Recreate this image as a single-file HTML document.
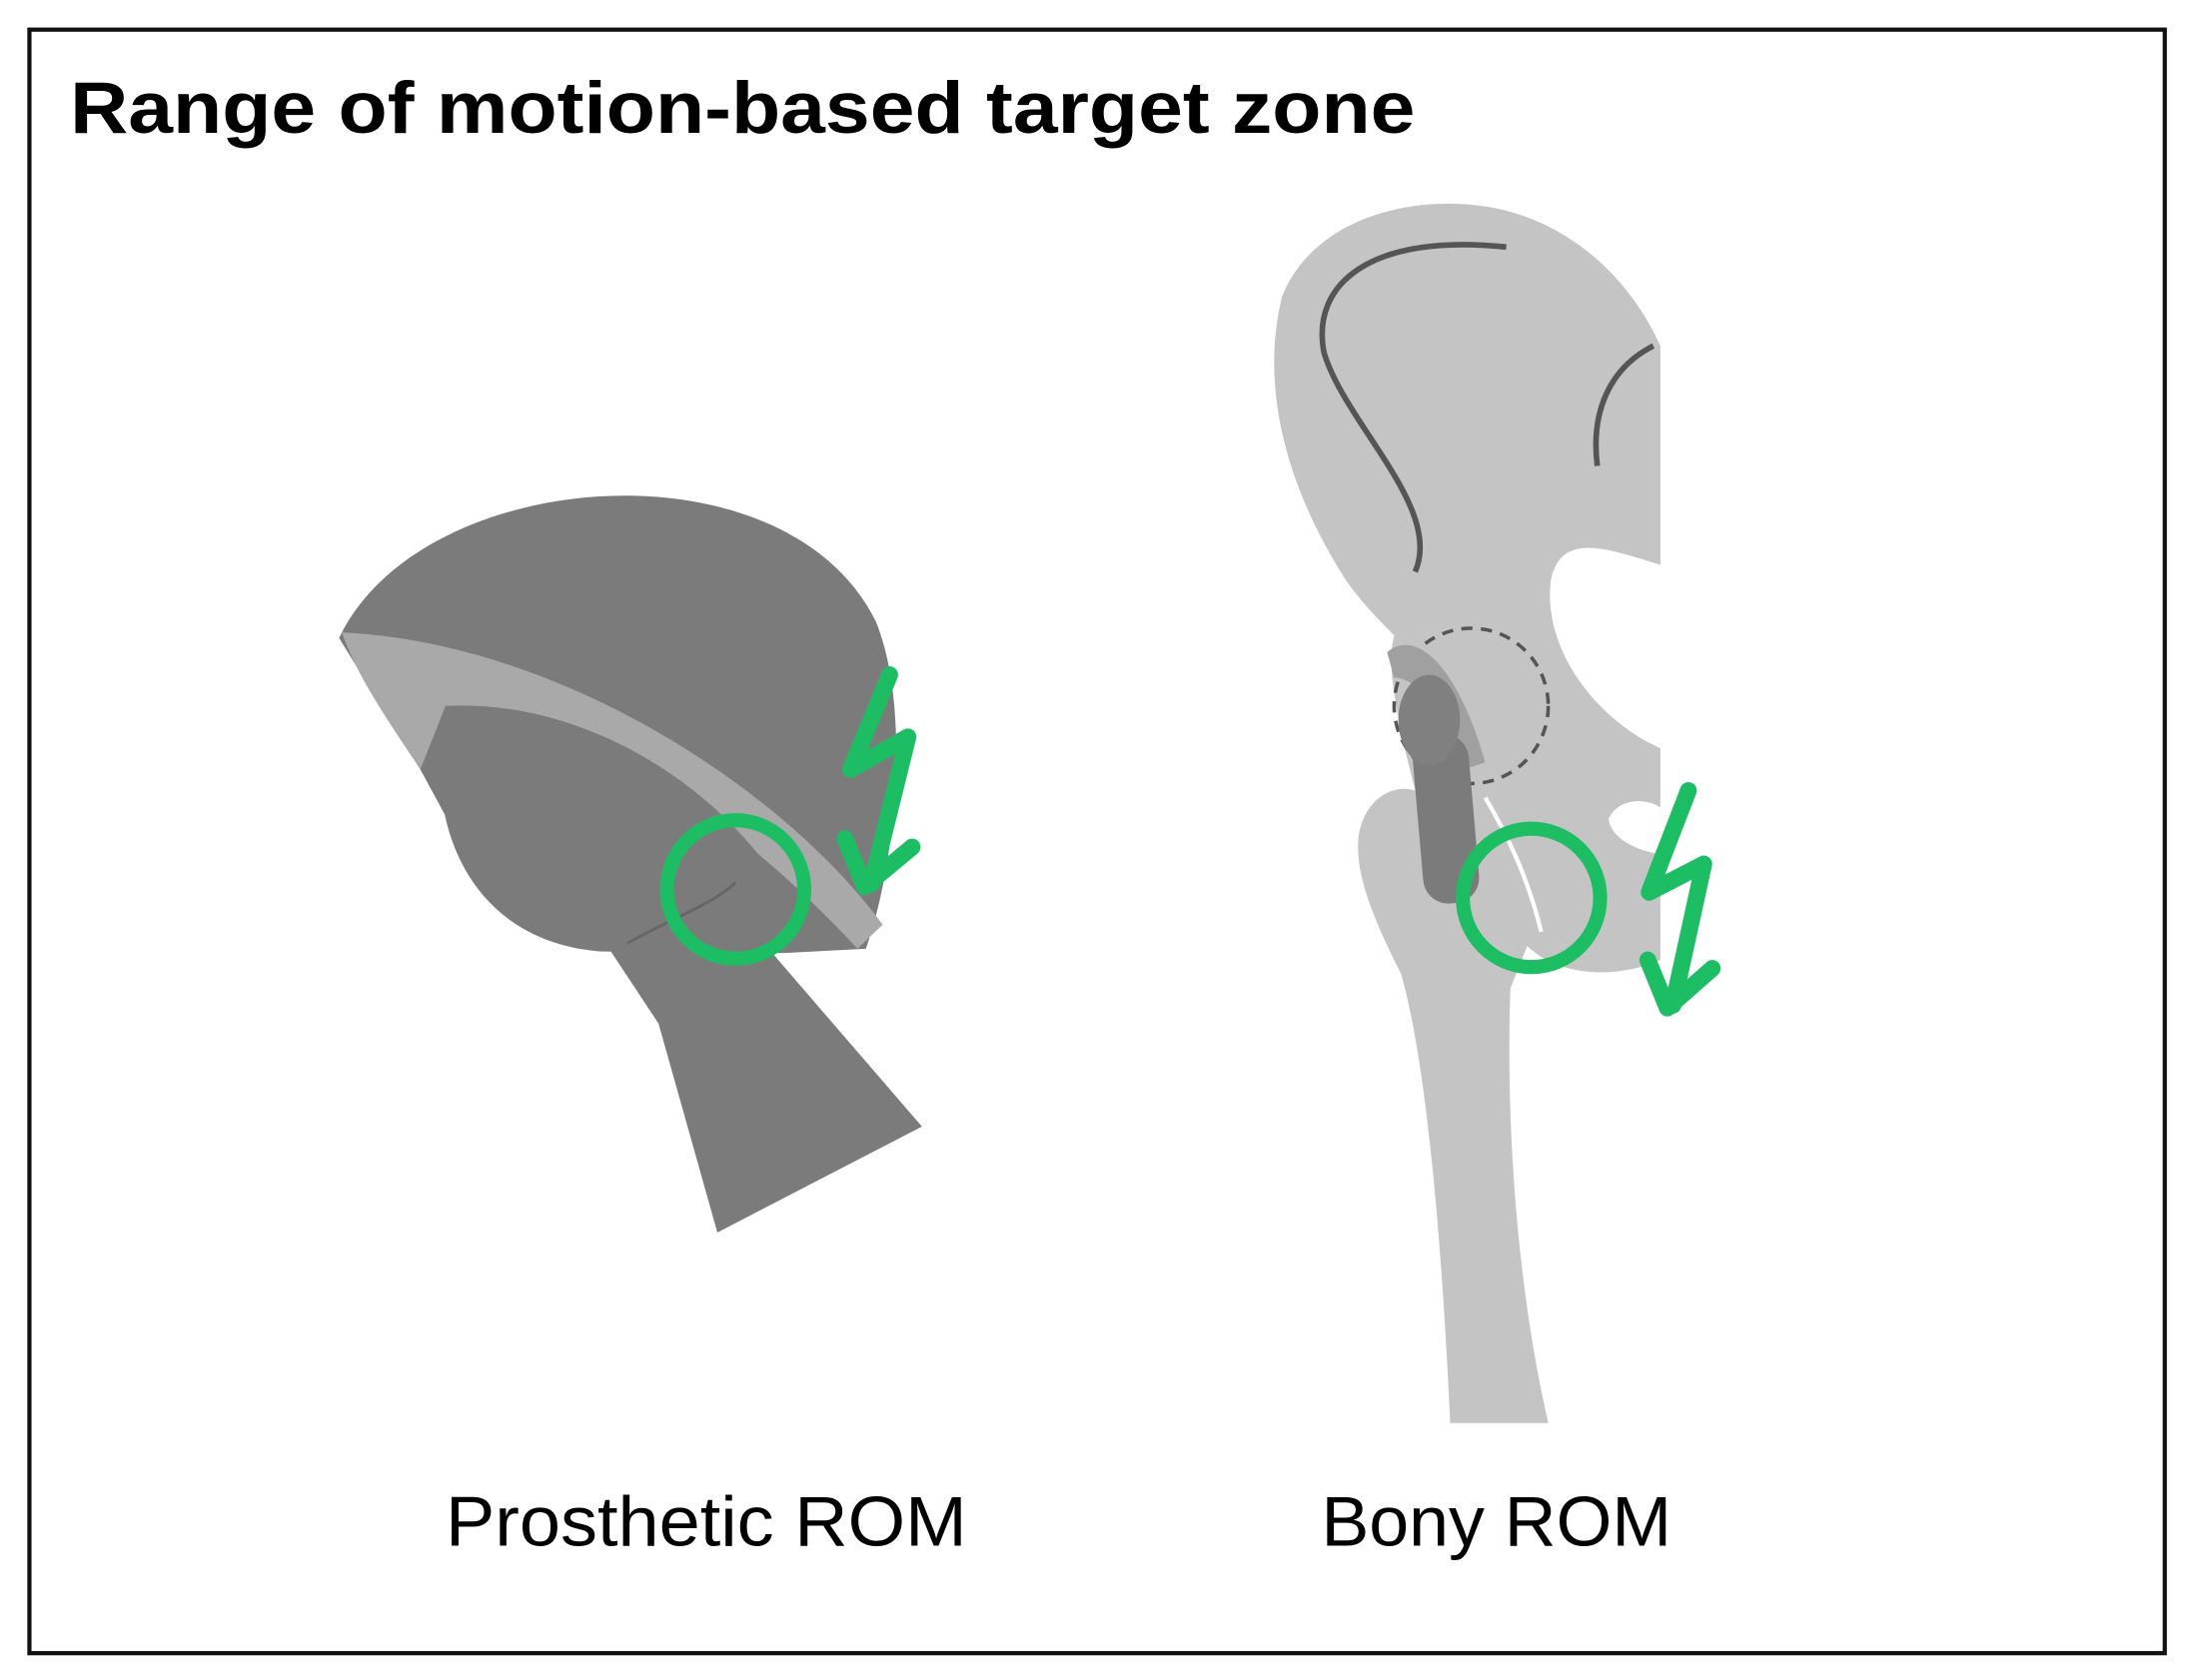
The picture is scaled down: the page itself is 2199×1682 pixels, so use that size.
<!DOCTYPE html>
<html><head><meta charset="utf-8"><style>html,body{margin:0;padding:0;background:#fff}svg{display:block}</style></head>
<body>
<svg width="2199" height="1682" viewBox="0 0 1568 1190" preserveAspectRatio="none" xmlns="http://www.w3.org/2000/svg">
<rect x="0" y="0" width="1568" height="1190" fill="#fff"/>
<rect x="21" y="21" width="1524" height="1150" fill="none" stroke="#111" stroke-width="3"/>
<text x="50" y="94" font-family="Liberation Sans, sans-serif" font-weight="bold" font-size="52" textLength="960" lengthAdjust="spacingAndGlyphs" fill="#000">Range of motion-based target zone</text>

<!-- Prosthetic -->
<polygon points="432,668 545,668 658,798 512,873 470,725" fill="#7b7b7b"/>
<path d="M242,452 C300,330 560,310 625,440 C650,500 640,610 618,672 L560,675 L330,600 L300,545 Z" fill="#7b7b7b"/>
<path d="M244,448 C400,455 560,560 630,655 L612,672 C545,600 430,505 318,500 L300,545 C280,515 255,480 244,448 Z" fill="#a9a9a9"/>
<path d="M318,500 C420,495 520,560 565,640 L560,675 L430,674 C340,668 300,590 318,500 Z" fill="#7b7b7b"/>
<path d="M448,668 C480,650 510,640 525,625" fill="none" stroke="#666" stroke-width="2"/>
<circle cx="525" cy="630" r="49" fill="none" stroke="#1dbe63" stroke-width="10"/>
<polyline points="635,478 607,545 648,522 622,626" fill="none" stroke="#1dbe63" stroke-width="12" stroke-linejoin="round" stroke-linecap="round"/>
<polyline points="603,594 617,628 651,600" fill="none" stroke="#1dbe63" stroke-width="12" stroke-linejoin="round" stroke-linecap="round"/>

<!-- Bony -->
<path d="M960,410 C915,340 900,270 915,210 C935,160 995,140 1050,145 C1110,150 1160,190 1185,245 L1185,400 C1150,390 1115,375 1107,410 C1100,460 1140,510 1185,530 L1185,680 C1150,695 1110,690 1090,670 L1078,700 C1075,780 1080,900 1105,1008 L1035,1008 C1030,900 1020,760 1000,690 C985,660 965,620 970,590 C975,565 995,555 1010,560 L1000,520 C995,490 990,470 995,450 C985,440 970,425 960,410 Z" fill="#c4c4c4"/>
<path d="M1148,580 C1155,565 1175,565 1185,572 L1185,605 C1170,603 1150,595 1148,580 Z" fill="#fff"/>
<path d="M1060,565 C1075,590 1090,620 1100,660" fill="none" stroke="#fff" stroke-width="3"/>
<path d="M1010,405 C1030,360 960,300 945,250 C935,200 980,165 1075,175" fill="none" stroke="#555" stroke-width="4"/>
<path d="M1140,330 C1135,290 1150,260 1180,245" fill="none" stroke="#555" stroke-width="4"/>
<circle cx="1050" cy="500" r="55" fill="none" stroke="#555" stroke-width="2.5" stroke-dasharray="8,6"/>
<path d="M990,462 C1010,445 1040,470 1060,540 L1045,545 C1030,500 1010,480 995,480 Z" fill="#a0a0a0"/>
<rect x="1012" y="520" width="40" height="120" rx="18" fill="#7b7b7b" transform="rotate(-5 1032 580)"/>
<ellipse cx="1020" cy="510" rx="22" ry="32" fill="#808080"/>
<circle cx="1093" cy="636" r="49" fill="none" stroke="#1dbe63" stroke-width="10"/>
<polyline points="1205,560 1177,632 1216,612 1194,712" fill="none" stroke="#1dbe63" stroke-width="12" stroke-linejoin="round" stroke-linecap="round"/>
<polyline points="1176,680 1190,714 1222,686" fill="none" stroke="#1dbe63" stroke-width="12" stroke-linejoin="round" stroke-linecap="round"/>

<text x="318" y="1095" font-family="Liberation Sans, sans-serif" font-size="50" textLength="372" lengthAdjust="spacingAndGlyphs" fill="#000">Prosthetic ROM</text>
<text x="943" y="1095" font-family="Liberation Sans, sans-serif" font-size="50" textLength="250" lengthAdjust="spacingAndGlyphs" fill="#000">Bony ROM</text>
</svg>
</body></html>
